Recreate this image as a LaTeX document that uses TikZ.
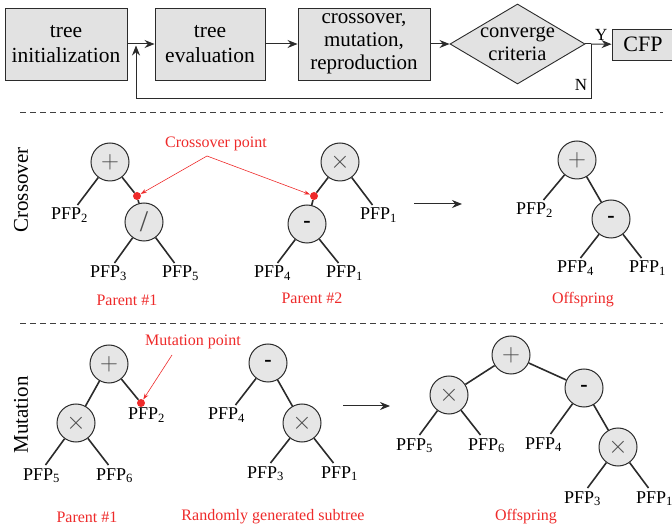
\documentclass[tikz,border=0pt]{standalone}
\usepackage{fontspec}
\setmainfont{Liberation Serif}
\usepackage{tikz}
\usetikzlibrary{arrows.meta, shapes.geometric}
\definecolor{boxgray}{HTML}{E2E2E2}
\definecolor{opgray}{HTML}{E6E6E6}
\definecolor{linegray}{HTML}{2B2B2B}
\definecolor{ptred}{HTML}{EE2A2A}
\newcommand{\pfp}[1]{PFP\textsubscript{#1}}

\begin{document}
\begin{tikzpicture}[>={Stealth[length=10pt, width=8pt]}, x=1pt, y=-1pt,
  block/.style={draw=linegray, line width=0.9pt, fill=boxgray, align=center, inner sep=0pt, minimum height=72pt, font=\fontsize{21.5}{25}\selectfont},
  decision/.style={diamond, draw=linegray, line width=0.9pt, fill=boxgray, inner sep=0pt, minimum width=135pt, minimum height=80pt},
  op/.style={circle, draw=linegray, line width=1pt, fill=opgray, minimum size=38pt, inner sep=0pt, text=black!70, font=\fontsize{26}{26}\selectfont},
  leaf/.style={anchor=base, inner sep=3pt, font=\fontsize{18}{20}\selectfont},
  edge/.style={draw=linegray, line width=1.6pt},
  flow/.style={->, draw=linegray, line width=1pt},
  cpoint/.style={circle, fill=ptred, minimum size=8pt, inner sep=0pt},
  note/.style={text=ptred, font=\fontsize{16}{18}\selectfont},
  pointer/.style={-{Stealth[length=6pt, width=4pt]}, draw=ptred, line width=0.6pt},
  section/.style={rotate=90, font=\fontsize{21}{21}\selectfont},
  sep/.style={draw=black!75, line width=0.8pt, dash pattern=on 6pt off 4pt}]
  \path[use as bounding box, clip] (0,0) rectangle (672,526);

  % Flow chart
  \node[block, minimum width=122pt] (init) at (66,44) {tree\\initialization};
  \node[block, minimum width=110pt] (eval) at (210,44) {tree\\evaluation};
  \node[block, minimum width=132pt, font=\fontsize{21}{23}\selectfont] (cmr) at (364,44) {crossover,\\mutation,\\reproduction};
  \node[decision, label={[align=center, font=\fontsize{20.5}{23}\selectfont]center:converge\\criteria}] (conv) at (517.5,44) {};
  \node[block, minimum width=62pt, minimum height=31pt, font=\fontsize{22}{22}\selectfont] (cfp) at (643,44.5) {CFP};
  \coordinate (split) at (591,44);
  \coordinate (back) at (136,44);

  \draw[flow] (init) -- (eval);
  \draw[flow] (eval) -- (cmr);
  \draw[flow] (cmr) -- (conv);
  \draw[draw=linegray, line width=1pt] (conv.east) -- (split);
  \draw[flow] (split) -- node[above, font=\fontsize{17}{17}\selectfont] {Y} (cfp);
  \draw[flow, shorten >=1.5pt] (split) -- node[pos=.75, left, font=\fontsize{17}{17}\selectfont] {N} ++(0,55) -| (back);

  % Separators
  \draw[sep] (20,112.5) -- (663,112.5);
  \draw[sep] (20,323) -- (663,323);

  % Crossover
  \node[section] (xo) at (21,190) {Crossover};
  \node[op] (oA) at (110,162) {$+$};
  \node[cpoint] (cpA) at (137,196) {};
  \node[op, font=\fontsize{30}{30}\selectfont] (oAd) at (144,222) {/};
  \node[leaf] (lA2) at (69.5,220) {\pfp{2}};
  \node[leaf] (lA3) at (108.5,278) {\pfp{3}};
  \node[leaf] (lA5) at (180.5,278) {\pfp{5}};

  \node[op] (oB) at (340,162) {$\times$};
  \node[cpoint] (cpB) at (314,196) {};
  \node[op, text=black, font=\fontsize{22}{22}\selectfont] (oBm) at (307,224) {\textbf{-}};
  \node[leaf] (lB1a) at (378.5,220) {\pfp{1}};
  \node[leaf] (lB4) at (272.5,278) {\pfp{4}};
  \node[leaf] (lB1b) at (344.5,278) {\pfp{1}};

  \node[op] (oC) at (577,160) {$+$};
  \node[op, text=black, font=\fontsize{22}{22}\selectfont] (oCm) at (611,219) {\textbf{-}};
  \node[leaf] (lC2) at (534.5,215) {\pfp{2}};
  \node[leaf] (lC4) at (575.5,273) {\pfp{4}};
  \node[leaf] (lC1) at (647.5,273) {\pfp{1}};

  \draw[edge] (oA) -- ([xshift=8pt]lA2.north);
  \draw[edge] (oA) -- (cpA) -- (oAd);
  \draw[edge] (oAd) -- ([xshift=6pt]lA3.north);
  \draw[edge] (oAd) -- ([xshift=-6pt]lA5.north);
  \draw[edge] (oB) -- (cpB) -- (oBm);
  \draw[edge] (oB) -- ([xshift=-6pt]lB1a.north);
  \draw[edge] (oBm) -- ([xshift=5pt]lB4.north);
  \draw[edge] (oBm) -- ([xshift=-6pt]lB1b.north);
  \draw[edge] (oC) -- ([xshift=9pt]lC2.north);
  \draw[edge] (oC) -- (oCm);
  \draw[edge] (oCm) -- ([xshift=5pt]lC4.north);
  \draw[edge] (oCm) -- ([xshift=-6pt]lC1.north);

  \node[note] (ncp) at (216,144) {Crossover point};
  \coordinate (cpo) at (207,156);
  \draw[pointer] (cpo) -- (cpA);
  \draw[pointer] (cpo) -- (cpB);
  \node[note] (np1) at (127,300) {Parent \#1};
  \node[note] (np2) at (312,298) {Parent \#2};
  \node[note] (no1) at (583,300) {Offspring};
  \coordinate (xa) at (414,204);
  \coordinate (xb) at (462,204);
  \draw[flow] (xa) -- (xb);

  % Mutation
  \node[section] (mu) at (21,415) {Mutation};
  \node[op] (oD) at (109,364) {$+$};
  \node[op] (oDx) at (76,423) {$\times$};
  \node[leaf] (lD2) at (146.5,420) {\pfp{2}};
  \node[cpoint] (mD) at (141,403) {};
  \node[leaf] (lD5) at (41.5,480) {\pfp{5}};
  \node[leaf] (lD6) at (114.5,480) {\pfp{6}};

  \node[op, text=black, font=\fontsize{22}{22}\selectfont] (oE) at (268,363) {\textbf{-}};
  \node[leaf] (lE4) at (226.5,420) {\pfp{4}};
  \node[op] (oEx) at (302,423) {$\times$};
  \node[leaf] (lE3) at (265.5,478) {\pfp{3}};
  \node[leaf] (lE1) at (339.5,478) {\pfp{1}};

  \node[op] (oF) at (511,355) {$+$};
  \node[op] (oFx) at (449,395) {$\times$};
  \node[op, text=black, font=\fontsize{22}{22}\selectfont] (oFm) at (584,388) {\textbf{-}};
  \node[leaf] (lF5) at (414.5,450) {\pfp{5}};
  \node[leaf] (lF6) at (486.5,450) {\pfp{6}};
  \node[leaf] (lF4) at (543.5,449) {\pfp{4}};
  \node[op] (oFx2) at (618,447) {$\times$};
  \node[leaf] (lF3) at (582.5,503) {\pfp{3}};
  \node[leaf] (lF1) at (654.5,503) {\pfp{1}};

  \draw[edge] (oD) -- (oDx);
  \draw[edge] (oD) -- (mD);
  \draw[edge] (oDx) -- ([xshift=4pt]lD5.north);
  \draw[edge] (oDx) -- ([xshift=-6pt]lD6.north);
  \draw[edge] (oE) -- ([xshift=9pt]lE4.north);
  \draw[edge] (oE) -- (oEx);
  \draw[edge] (oEx) -- ([xshift=5pt]lE3.north);
  \draw[edge] (oEx) -- ([xshift=-6pt]lE1.north);
  \draw[edge] (oF) -- (oFx);
  \draw[edge] (oF) -- (oFm);
  \draw[edge] (oFx) -- ([xshift=5pt]lF5.north);
  \draw[edge] (oFx) -- ([xshift=-6pt]lF6.north);
  \draw[edge] (oFm) -- ([xshift=7pt]lF4.north);
  \draw[edge] (oFm) -- (oFx2);
  \draw[edge] (oFx2) -- ([xshift=5pt]lF3.north);
  \draw[edge] (oFx2) -- ([xshift=-6pt]lF1.north);

  \node[note] (nmp) at (193,342) {Mutation point};
  \coordinate (mpo) at (172,355);
  \draw[pointer] (mpo) -- (mD);
  \node[note] (np3) at (87,517) {Parent \#1};
  \node[note] (nrs) at (273,517) {Randomly generated subtree};
  \node[note] (no2) at (526,517) {Offspring};
  \coordinate (ma) at (343,406);
  \coordinate (mb) at (390,406);
  \draw[flow] (ma) -- (mb);
\end{tikzpicture}
\end{document}
